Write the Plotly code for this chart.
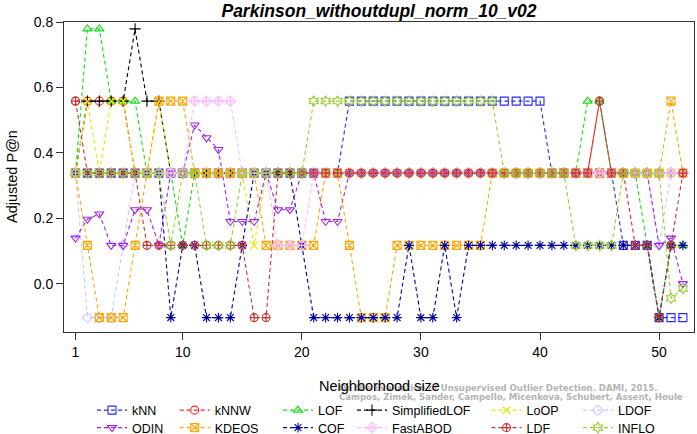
import plotly.graph_objects as go

# Neighborhood sizes
k = list(range(1, 53))

# Adjusted P@n values per method
knn = [0.338, 0.338, 0.338, 0.338, 0.338, 0.338, 0.338, 0.338, 0.338, 0.338,
       0.338, 0.338, 0.338, 0.338, 0.338, 0.338, 0.338, 0.338, 0.338, 0.338,
       0.338, 0.338, 0.338, 0.558, 0.558, 0.558, 0.558, 0.558, 0.558, 0.558,
       0.558, 0.558, 0.558, 0.558, 0.558, 0.558, 0.558, 0.558, 0.558, 0.558,
       0.338, 0.338, 0.338, 0.338, 0.338, 0.338, 0.117, 0.117, 0.117, -0.104,
       -0.104, -0.104]
knnw = [0.558, 0.558, 0.558, 0.558, 0.558, 0.338, 0.338, 0.338, 0.338, 0.338,
        0.338, 0.338, 0.338, 0.338, 0.338, 0.338, 0.338, 0.338, 0.338, 0.338,
        0.338, 0.338, 0.338, 0.338, 0.338, 0.338, 0.338, 0.338, 0.338, 0.338,
        0.338, 0.338, 0.338, 0.338, 0.338, 0.338, 0.338, 0.338, 0.338, 0.338,
        0.338, 0.338, 0.338, 0.338, 0.558, 0.338, 0.338, 0.338, 0.338, 0.338,
        0.338, 0.338]
lof = [0.338, 0.779, 0.779, 0.558, 0.558, 0.558, 0.338, 0.338, 0.338, 0.117,
       0.338, 0.338, 0.338, 0.338, 0.338, 0.338, 0.338, 0.338, 0.338, 0.338,
       0.338, 0.338, 0.338, 0.338, 0.338, 0.338, 0.338, 0.338, 0.338, 0.338,
       0.338, 0.338, 0.338, 0.338, 0.338, 0.338, 0.338, 0.338, 0.338, 0.338,
       0.338, 0.338, 0.338, 0.558, 0.558, 0.338, 0.338, 0.338, 0.117, -0.104,
       0.117, 0.117]
slof = [0.338, 0.558, 0.558, 0.558, 0.558, 0.779, 0.558, 0.558, 0.338, 0.338,
        0.338, 0.338, 0.338, 0.338, 0.338, 0.338, 0.338, 0.338, 0.338, 0.338,
        0.338, 0.338, 0.338, 0.338, 0.338, 0.338, 0.338, 0.338, 0.338, 0.338,
        0.338, 0.338, 0.338, 0.338, 0.338, 0.338, 0.338, 0.338, 0.338, 0.338,
        0.338, 0.338, 0.338, 0.338, 0.338, 0.338, 0.338, 0.338, 0.338, 0.338,
        0.338, 0.338]
loop = [0.338, 0.558, 0.338, 0.558, 0.558, 0.338, 0.338, 0.558, 0.338, 0.338,
        0.338, 0.338, 0.338, 0.338, 0.338, 0.117, 0.338, 0.338, 0.338, 0.338,
        0.338, 0.338, 0.338, 0.338, 0.338, 0.338, 0.338, 0.338, 0.338, 0.338,
        0.338, 0.338, 0.338, 0.338, 0.338, 0.338, 0.338, 0.338, 0.338, 0.338,
        0.338, 0.338, 0.338, 0.338, 0.338, 0.338, 0.338, 0.338, 0.338, 0.338,
        0.338, 0.338]
ldof = [0.338, -0.104, -0.104, -0.104, 0.117, 0.338, 0.338, 0.338, 0.338, 0.338,
        0.338, 0.338, 0.338, 0.338, 0.338, 0.338, 0.338, 0.338, 0.338, 0.338,
        0.338, 0.338, 0.338, 0.338, 0.338, 0.338, 0.338, 0.338, 0.338, 0.338,
        0.338, 0.338, 0.338, 0.338, 0.338, 0.338, 0.338, 0.338, 0.338, 0.338,
        0.338, 0.338, 0.338, 0.338, 0.338, 0.338, 0.338, 0.338, 0.338, 0.117,
        0.338, 0.338]
odin = [0.139, 0.197, 0.213, 0.117, 0.117, 0.226, 0.226, 0.117, 0.338, 0.338,
        0.485, 0.446, 0.410, 0.190, 0.190, 0.190, 0.338, 0.226, 0.226, 0.338,
        0.338, 0.190, 0.190, 0.338, 0.338, 0.338, 0.338, 0.338, 0.338, 0.338,
        0.338, 0.338, 0.338, 0.338, 0.338, 0.338, 0.338, 0.338, 0.338, 0.338,
        0.338, 0.338, 0.338, 0.338, 0.338, 0.338, 0.338, 0.338, 0.338, 0.117,
        0.139, 0.000]
kdeos = [0.338, 0.117, -0.104, -0.104, -0.104, 0.117, 0.338, 0.558, 0.558, 0.558,
         0.338, 0.338, 0.338, 0.338, 0.338, 0.338, 0.117, 0.117, 0.117, 0.117,
         0.117, 0.338, 0.338, 0.117, -0.104, -0.104, -0.104, 0.117, 0.117, 0.117,
         0.117, 0.117, 0.117, 0.117, 0.117, 0.338, 0.338, 0.338, 0.338, 0.338,
         0.338, 0.338, 0.338, 0.338, 0.338, 0.338, 0.338, 0.338, 0.338, 0.338,
         0.558, 0.338]
cof = [0.338, 0.338, 0.338, 0.338, 0.338, 0.338, 0.338, 0.338, -0.104, 0.117,
       0.117, -0.104, -0.104, -0.104, 0.117, 0.338, 0.338, 0.338, 0.338, 0.117,
       -0.104, -0.104, -0.104, -0.104, -0.104, -0.104, -0.104, -0.104, 0.117, -0.104,
       -0.104, 0.117, -0.104, 0.117, 0.117, 0.117, 0.117, 0.117, 0.117, 0.117,
       0.117, 0.117, 0.117, 0.117, 0.117, 0.117, 0.117, 0.117, 0.117, -0.104,
       0.117, 0.117]
fastabod = [0.338, 0.338, 0.338, 0.338, 0.338, 0.338, 0.338, 0.338, 0.338, 0.338,
            0.558, 0.558, 0.558, 0.558, 0.338, 0.338, 0.338, 0.117, 0.117, 0.117,
            0.338, 0.338, 0.338, 0.338, 0.338, 0.338, 0.338, 0.338, 0.338, 0.338,
            0.338, 0.338, 0.338, 0.338, 0.338, 0.338, 0.338, 0.338, 0.338, 0.338,
            0.338, 0.338, 0.338, 0.338, 0.338, 0.338, 0.338, 0.338, 0.338, 0.338,
            0.338, 0.338]
ldf = [0.558, 0.338, 0.338, 0.338, 0.338, 0.338, 0.117, 0.117, 0.117, 0.117,
       0.117, 0.117, 0.117, 0.117, 0.117, -0.104, -0.104, 0.338, 0.338, 0.338,
       0.338, 0.338, 0.338, 0.338, 0.338, 0.338, 0.338, 0.338, 0.338, 0.338,
       0.338, 0.338, 0.338, 0.338, 0.338, 0.338, 0.338, 0.338, 0.338, 0.338,
       0.338, 0.338, 0.338, 0.338, 0.558, 0.338, 0.338, 0.117, 0.117, -0.104,
       0.117, 0.338]
inflo = [0.338, 0.338, 0.338, 0.338, 0.338, 0.338, 0.338, 0.338, 0.117, 0.338,
         0.338, 0.117, 0.117, 0.117, 0.338, 0.338, 0.338, 0.338, 0.338, 0.338,
         0.558, 0.558, 0.558, 0.558, 0.558, 0.558, 0.558, 0.558, 0.558, 0.558,
         0.558, 0.558, 0.558, 0.558, 0.558, 0.558, 0.338, 0.338, 0.338, 0.338,
         0.338, 0.338, 0.117, 0.117, 0.117, 0.117, 0.338, 0.338, 0.338, 0.338,
         -0.045, -0.015]

methods = ["kNN", "kNNW", "LOF", "SimplifiedLOF", "LoOP", "LDOF",
           "ODIN", "KDEOS", "COF", "FastABOD", "LDF", "INFLO"]
values = [knn, knnw, lof, slof, loop, ldof, odin, kdeos, cof, fastabod, ldf, inflo]
colors = ["#2a2aff", "#ff2020", "#10e010", "#000000", "#e6e600", "#c8c8ff",
          "#a020f0", "#ffa500", "#000099", "#ffb8ff", "#c83232", "#9acd32"]
symbols = ["square-open", "circle-open", "triangle-up-open", "cross-thin-open",
           "x-thin-open", "diamond-open", "triangle-down-open", "square-x-open",
           "asterisk-open", "diamond-cross-open", "circle-cross-open", "hexagram-open"]

W, H = 697, 434
L, R, T, B = 64, 697 - 694, 22, 434 - 332.5
PW, PH = W - L - R, H - T - B

# legend layout: 6 columns x 2 rows (text start x, row centre y in pixels)
legend_text_x = [133, 215.7, 319, 393, 527.5, 619]
legend_row_y = [410.5, 428]

fig = go.Figure()
legend_cfg = {}
for i, (name, vals, col, sym) in enumerate(zip(methods, values, colors, symbols)):
    key = "legend" if i == 0 else f"legend{i + 1}"
    fig.add_trace(go.Scatter(
        x=k, y=vals, name=name, mode="lines+markers",
        line=dict(color=col, width=1.1, dash="4px,3px"),
        marker=dict(symbol=sym, size=8, color=col, line=dict(color=col, width=1.1)),
        legend=key, showlegend=True))
    col_i, row_i = i % 6, i // 6
    legend_cfg[key] = dict(
        x=(legend_text_x[col_i] - 41) / W, xref="container", xanchor="left",
        y=1 - legend_row_y[row_i] / H, yref="container", yanchor="middle",
        orientation="v", bgcolor="rgba(0,0,0,0)", borderwidth=0,
        font=dict(family="Liberation Sans, Arial, sans-serif", size=12.5, color="#000"),
        itemwidth=30)


def px2paper_x(px):
    return (px - L) / PW


def px2paper_y(py):
    return (H - B - py) / PH


fig.update_layout(
    width=W, height=H,
    margin=dict(l=L, r=R, t=T, b=B, pad=0, autoexpand=False),
    paper_bgcolor="white", plot_bgcolor="white",
    font=dict(family="Liberation Sans, Arial, sans-serif", size=14, color="#000"),
    title=dict(text="<b><i>Parkinson_withoutdupl_norm_10_v02</i></b>",
               x=0.5, xref="paper", xanchor="center",
               y=1 - 10.5 / H, yref="container", yanchor="middle",
               font=dict(size=17.5, color="#000")),
    xaxis=dict(range=[0.034, 52.93], tickvals=[1, 10, 20, 30, 40, 50],
               showgrid=False, zeroline=False, showline=True, mirror=True,
               linecolor="#333333", linewidth=1, ticks="outside", ticklen=7,
               tickcolor="#333333", tickfont=dict(size=14), automargin=False),
    yaxis=dict(range=[-0.148, 0.8], tickvals=[0.0, 0.2, 0.4, 0.6, 0.8],
               tickformat=".1f",
               showgrid=False, zeroline=False, showline=True, mirror=True,
               linecolor="#333333", linewidth=1, ticks="outside", ticklen=7,
               tickcolor="#333333", tickfont=dict(size=14), automargin=False),
    **legend_cfg,
)

wm_font = dict(family="DejaVu Sans Condensed, DejaVu Sans, sans-serif", size=9.5, color="#b4b4b4")
fig.add_annotation(text="<b>On the Evaluation of Unsupervised Outlier Detection. DAMI, 2015.</b>",
                   x=px2paper_x(337), y=px2paper_y(388), xref="paper", yref="paper",
                   xanchor="left", yanchor="middle", showarrow=False, font=wm_font)
fig.add_annotation(text="<b>Campos, Zimek, Sander, Campello, Micenkova, Schubert, Assent, Houle</b>",
                   x=px2paper_x(337), y=px2paper_y(397.5), xref="paper", yref="paper",
                   xanchor="left", yanchor="middle", showarrow=False, font=wm_font)
fig.add_annotation(text="Neighborhood size", x=0.5, y=px2paper_y(387),
                   xref="paper", yref="paper", xanchor="center", yanchor="middle",
                   showarrow=False, font=dict(size=14.5, color="#000"))
fig.add_annotation(text="Adjusted P@n", x=px2paper_x(12), y=0.5, textangle=-90,
                   xref="paper", yref="paper", xanchor="center", yanchor="middle",
                   showarrow=False, font=dict(size=14.5, color="#000"))

fig.write_html("out.html", config={"displayModeBar": False, "staticPlot": True},
               post_script="document.body.style.margin='0';document.body.style.overflow='hidden';")
